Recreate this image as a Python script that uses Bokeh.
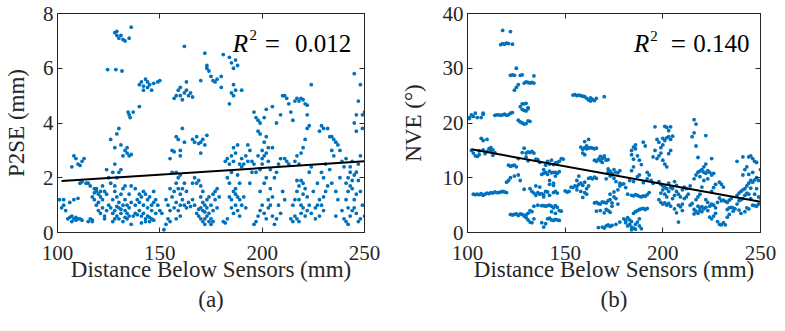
from bokeh.plotting import figure
from bokeh.layouts import row
from bokeh.models import LinearAxis, Title, Label, FixedTicker, Range1d
from bokeh.embed import file_html
from bokeh.resources import INLINE

FONT = "Liberation Serif"
BLUE = "#0072BD"
INK = "#262626"

# ---------------- Panel (a): P2SE (mm) vs distance ----------------
a_upper = [(128,7.3),(129,7.2),(130,7.1),(131,7.2),(132,7.05),(133,7.0),(135,7.1),(136,7.5),(129,7.35),
           (124.5,5.95),(128.5,5.95),(131.5,5.9),
           (140,5.4),(141,5.5),(142,5.35),(143,5.6),(144,5.3),(145,5.4),(146,5.2),(142,5.2),(144,5.5),(147,5.45),(150,5.55),(149,5.5),
           (134.5,4.4),(135,4.3),(135.5,4.2),(137,4.4),(140,4.6),
           (157,4.9),(158,5.0),(159,5.2),(160,5.0),(161,4.85),(162,5.1),(163,5.2),(164,5.0),(165,5.1),(166,4.95),(163,5.5),(160,5.3),(162,6.8),
           (170,5.55),(172,6.55),(173,6.0),(173,6.1),(174,5.9),(175,5.7),(176,5.55),(177,5.5),(178,5.6),(180,5.3),(180,5.7),(181,6.5),
           (184,6.4),(185,6.2),(186,6.0),(187,6.3),(188,6.1),(186,5.4),(185,5.1),(186,5.0),(187,5.2),(184,4.7),(190,5.2)]
a_middle = [(156,3.0),(157,2.95),(158,3.5),(159,3.4),(160,3.0),(160,2.8),(161,3.8),(162,3.3),(155,2.7),(158,2.2),(159,2.0),(160,2.1),
            (166,3.4),(167,3.3),(168,3.5),(169,3.25),(170,3.3),(171,3.4),(172,3.2),(170,2.9),(173,3.55),
            (126,3.4),(128,3.1),(129,3.6),(130,3.8),(131,3.2),(132,2.8),(133,3.0),(134,2.9),(135,2.8),(136,2.85),(134,3.1),(128,2.5),(127,2.2),
            (107,2.4),(108,2.8),(109,2.7),(110,2.5),(111,2.45),(112,2.6),(113,2.7)]
a_100_125 = [(101,1.2),(102,0.9),(103,1.0),(104,0.8),(105,0.5),(106,0.55),(107,0.4),(108,0.5),(109,0.55),(110,0.5),(111,0.5),(112,0.45),
             (103,1.2),(106,1.1),(108,1.2),(110,1.25),(107,0.6),(109,0.45),(111,1.8),(112,1.85),(114,1.8),
             (115,0.4),(116,0.5),(117,0.45),(118,1.6),(119,1.5),(120,1.4),(121,1.3),(122,1.7),(118,1.2),(119,1.0),(120,0.8),(121,0.7),
             (122,0.9),(123,1.5),(124,1.4),(117,1.3),(118,1.45),(119,1.6),(120,1.1),(116,1.7),(121,1.5),(122,1.2),(123,0.6),(124,0.8),
             (125,1.0),(125,2.0),(124,2.3),(123,0.5),(115,1.8),(117,0.4)]
a_126_150 = [(126,0.9),(127,0.7),(128,0.8),(129,0.6),(130,0.9),(131,0.7),(132,1.0),(133,0.8),(134,0.5),(135,0.6),(136,0.3),
             (127,1.2),(128,1.5),(129,1.3),(130,1.1),(131,1.4),(132,1.6),(133,1.2),(134,1.0),(128,0.5),(130,0.5),(132,0.4),(134,0.7),
             (126,1.8),(128,1.7),(129,2.0),(130,2.2),(131,2.3),(127,0.4),(133,0.55),(135,0.9),(136,1.1),(129,0.95),(131,0.85),(133,1.7),(135,1.4),
             (137,0.6),(138,0.7),(139,0.65),(140,0.8),(141,0.6),(142,0.7),(143,0.5),(144,0.6),(145,0.4),(146,0.5),(147,0.45),
             (138,1.0),(139,1.2),(140,1.4),(141,1.3),(142,1.5),(143,1.4),(144,1.2),(145,1.3),(146,1.0),(147,1.1),(148,1.2),(149,1.0),
             (140,1.1),(142,1.0),(144,0.9),(138,1.6),(136,1.7),(146,0.8),(148,0.7),(150,0.8),(151,0.7),(147,1.5),(143,0.4),(141,0.35),(145,0.55)]
a_150_180 = [(152,0.1),(153,0.3),(154,0.5),(155,0.4),(153,1.2),(154,1.0),(155,0.8),(156,1.3),(157,1.5),(158,1.8),(159,1.6),(160,1.4),
             (157,0.9),(158,1.1),(159,0.8),(160,1.0),(156,2.2),(155,1.6),(161,1.2),(162,1.0),(163,0.9),(164,1.1),(165,0.95),
             (161,1.6),(162,1.8),(163,1.5),(160,0.6),(158,0.5),
             (166,1.2),(167,1.0),(168,0.7),(169,0.6),(170,0.5),(171,0.4),(172,0.5),(173,0.6),(174,0.7),(175,0.5),(176,0.4),
             (168,1.8),(169,1.9),(170,1.7),(167,2.0),(166,1.8),(170,0.9),(171,1.1),(172,1.0),(173,1.2),(174,1.3),(175,1.0),(176,0.8),
             (177,1.2),(178,0.9),(177,1.5),(178,1.6),(179,1.3),(171,0.8),(172,0.75),(173,0.9),(174,0.4),(172,0.3),(175,0.3),
             (169,0.85),(170,1.3),(171,1.5),(176,1.4)]
a_180_210 = [(181,0.4),(182,0.35),(183,0.5),(184,1.3),(185,1.2),(186,1.5),(187,1.6),(188,1.3),(189,1.2),(190,1.0),(185,0.9),(186,0.7),
             (187,1.0),(188,0.8),(184,1.8),(183,2.0),(185,2.2),(182,2.6),(183,2.7),(184,2.5),(186,2.6),(187,2.9),(188,3.2),(189,2.5),
             (190,2.4),(191,2.5),(192,2.8),(193,2.6),(194,3.0),(195,2.6),(190,2.7),(188,2.1),(189,1.8),(186,3.1),(185,2.8),(187,1.4),
             (189,0.6),(191,1.3),(192,0.9),(194,1.8),(195,2.2),(193,3.2),
             (196,0.3),(197,0.4),(198,0.6),(199,0.8),(200,1.0),(201,0.7),(202,0.5),(203,0.9),(204,1.0),(205,0.6),(206,0.3),(207,0.5),
             (199,2.3),(200,2.5),(201,2.8),(202,2.9),(203,2.6),(204,2.3),(200,3.0),(201,3.3),(202,3.5),(199,3.6),(198,3.7),(197,2.2),
             (196,2.5),(198,2.8),(200,2.7),(203,3.1),(202,2.0),(201,1.8),(204,1.6),(205,1.3),(206,2.0),(207,2.2),(208,2.5),(209,2.7),
             (205,3.1),(197,4.2),(198,4.1),(199,4.0),(196,4.4),(201,4.2),(202,4.5),(205,4.6),(207,4.0),(209,4.3),(210,5.0),(211,5.0),
             (208,1.0),(209,0.7),(210,1.5),(211,1.2),(212,2.6),(213,2.5),(211,2.7),(203,1.2),(199,1.5)]
a_210_250 = [(214,0.5),(215,0.4),(216,0.6),(217,0.5),(218,0.4),(219,0.7),(220,0.9),(221,0.6),(222,0.8),(223,1.0),(224,0.7),
             (215,1.0),(216,1.2),(217,1.5),(218,1.7),(219,1.9),(220,1.8),(221,1.6),(222,1.3),(217,1.9),(218,1.2),(219,1.0),(220,1.4),
             (216,2.6),(217,2.8),(218,2.5),(219,2.9),(220,3.1),(221,3.4),(222,3.8),(223,3.9),(224,5.4),(219,4.9),(218,4.8),(220,4.85),
             (221,4.7),(222,4.65),(217,4.9),(216,4.8),(214,4.4),(215,4.1),(212,4.9),(213,4.7),(222,4.3),(225,1.5),(224,2.4),(223,2.2),
             (226,0.9),(227,1.0),(228,1.2),(229,1.0),(230,1.3),(231,1.5),(232,1.7),(226,0.5),(228,0.6),(230,0.8),(227,1.8),(229,2.2),
             (230,2.0),(231,2.5),(233,2.3),(234,1.8),(236,1.5),(237,1.2),(235,2.8),(234,3.0),(233,3.5),(232,3.8),(234,3.5),(235,3.4),
             (236,3.3),(237,3.2),(238,3.0),(230,3.8),(229,3.9),(228,3.7),(239,2.6),(240,2.4),(238,2.0),(236,0.6),(239,0.8),
             (240,0.5),(241,0.4),(242,0.3),(243,0.6),(244,0.8),(245,0.9),(246,0.7),(247,0.4),(248,0.5),(241,1.2),(242,1.5),(243,1.7),
             (244,1.9),(245,2.1),(246,2.2),(247,1.9),(241,1.8),(242,2.0),(243,2.2),(244,1.6),(245,1.2),(246,1.4),(247,2.5),(248,2.8),
             (243,2.4),(244,2.6),(245,4.0),(246,4.3),(247,4.8),(248,5.4),(245,5.8),(249,4.3),(250,4.4),(249,3.8),(246,3.7),(242,0.9),
             (241,2.7),(248,1.5),(249,1.0),(250,0.6)]
a_fit_x = [102, 250]
a_fit_y = [1.88, 2.60]

# ---------------- Panel (b): NVE (deg) vs distance ----------------
b_100_125 = [(117,34.3),(118,34.5),(119,34.4),(120,34.6),(121,34.5),(123,34.4),(118,36.9),(122,36.7),
             (101,21.0),(102,21.5),(103,21.2),(104,21.8),(105,21.0),(107,21.0),(108,21.6),(108,21.8),(101,20.8),
             (114,21.4),(115,21.5),(116,21.5),(117,21.4),(118,21.5),(119,21.6),(120,21.4),(121,21.5),(122,21.8),(123,21.9),
             (102,15.0),(103,14.5),(104,14.0),(105,13.9),(106,14.2),(107,17.2),(108,16.8),(110,17.0),(111,15.3),(112,14.9),
             (113,15.1),(114,14.6),(110,14.8),(112,15.5),(113,14.1),(106,14.9),(108,15.1),(109,14.4),
             (103,7.0),(104,6.9),(105,7.0),(106,6.9),(107,7.1),(108,6.8),(109,7.0),(110,7.2),(111,7.1),(112,7.3),(113,7.2),
             (114,7.4),(115,7.3),(116,7.3),(117,7.4),(118,7.5),(119,7.4),(120,7.3),
             (121,12.3),(122,12.1),(123,12.2),(124,12.3),(125,12.0),(120,9.2),(121,9.5),(122,10.0),(124,10.3),(126,10.5),(127,9.5)]
b_122_150 = [(122,28.7),(123,28.8),(124,28.7),(125,30.0),(124,26.0),(125,26.5),(126,27.0),(127,28.7),(128,28.8),(129,27.3),
             (130,27.5),(131,27.4),(132,27.3),(133,27.4),(134,28.6),(134,27.3),
             (127,23.0),(128,23.5),(129,23.5),(130,23.6),(131,22.8),(128,22.5),(129,22.3),(130,22.2),(131,22.6),(127,20.2),
             (128,20.0),(129,19.8),(130,19.9),(126,20.5),(131,20.4),(132,20.3),
             (126,13.5),(128,14.6),(129,15.4),(130,14.5),(131,14.7),(132,14.6),(133,14.8),(134,14.5),(130,13.8),(131,13.1),
             (122,3.3),(123,3.2),(124,3.3),(125,3.4),(126,3.1),(127,3.4),(128,3.3),(129,3.0),(130,3.2),(131,3.5),(132,4.0),
             (133,3.8),(130,2.7),(131,2.3),(132,1.9),(133,1.8),(134,2.5),(129,7.9),(132,8.0),(134,4.8),(136,5.0),
             (133,7.5),(134,7.2),(135,6.8),(136,7.3),(137,7.0),(138,7.1),(139,6.9),(135,8.5),(137,8.3),(140,7.5),(141,7.4),
             (142,6.8),(144,7.3),(145,7.5),(146,7.2),(139,6.5),(142,8.8),(144,8.6),
             (138,10.6),(139,10.8),(140,11.0),(141,10.6),(142,11.2),(143,10.9),(144,11.0),(145,11.0),(146,10.8),(147,11.1),
             (140,12.3),(142,12.5),(144,12.4),(145,12.7),(146,12.8),(147,13.0),(148,13.5),(149,13.4),(141,13.0),(143,13.2),
             (135,13.4),(136,13.3),(137,12.8),(139,11.5),(142,9.5),(144,9.0),(145,10.3),
             (138,4.9),(139,4.9),(140,4.8),(141,4.9),(142,5.0),(143,4.8),(144,4.5),(145,4.9),(146,4.6),
             (138,1.8),(139,1.0),(140,1.6),(141,2.5),(142,2.6),(143,2.3),(144,2.2),(145,2.4),(146,2.3),(147,2.2),(145,3.5),
             (143,3.8),(147,4.0),(148,3.9)]
b_150_180 = [(154,25.1),(155,25.2),(156,25.0),(157,25.1),(158,25.0),(159,24.9),(160,24.8),(161,24.5),(162,24.2),(163,24.0),
             (164,24.3),(165,24.1),(166,24.5),(163,24.6),(170,24.8),
             (150,7.6),(151,7.4),(152,7.5),(153,8.3),(154,8.2),(155,8.5),(156,8.4),(157,8.8),(158,9.0),(159,8.6),(160,9.2),
             (161,8.0),(162,8.5),(160,7.3),(158,7.5),(156,7.8),(159,6.4),(161,7.0),(162,9.9),(163,10.0),(164,9.8),(165,10.1),
             (166,9.9),(157,10.3),(156,9.5),
             (158,15.6),(159,15.2),(160,15.5),(161,15.8),(162,17.0),(160,16.6),(161,15.3),(162,15.4),(163,15.5),(164,15.4),
             (165,15.3),(166,15.4),(159,14.5),(160,14.2),
             (165,13.2),(166,13.0),(167,13.4),(168,13.1),(169,13.5),(170,13.7),(171,13.2),(172,13.3),(169,12.8),(170,14.0),(168,13.9),
             (172,11.0),(173,11.2),(174,10.8),(175,11.5),(176,11.0),(177,10.9),(178,11.3),(173,10.3),(174,10.5),(175,9.9),
             (176,9.3),(178,9.0),(179,8.8),(180,8.9),(181,8.2),(178,8.5),(172,11.6),(171,9.8),
             (165,5.4),(166,5.5),(167,5.3),(168,5.2),(169,5.6),(170,5.5),(171,5.4),(172,5.8),(173,6.0),(174,5.4),(175,6.5),
             (176,6.2),(177,5.2),(172,4.0),(168,4.0),(166,3.9),(170,3.6),(171,4.2),(173,3.7),(174,4.8),(173,7.0),(175,7.4),(177,7.8),
             (169,1.0),(170,0.8),(171,1.2),(172,1.4),(173,1.1),(174,1.3),(176,1.5),(178,1.9),(167,0.9)]
b_180_212 = [(180,2.5),(181,2.2),(182,2.7),(183,1.5),(184,1.0),(185,0.8),(186,0.6),(187,1.9),(188,2.5),(183,2.3),(184,2.0),
             (182,1.2),(181,1.8),(185,3.5),(186,3.8),(187,4.0),(188,4.2),(189,4.3),(190,4.4),(191,4.2),(192,4.4),(189,0.7),
             (186,1.5),(188,1.2),(184,0.5),
             (184,6.8),(185,6.7),(186,6.9),(187,6.8),(188,6.6),(189,6.5),(190,6.7),(191,6.6),(192,6.9),(193,7.3),(182,7.0),
             (184,15.0),(185,15.6),(186,15.3),(184,14.2),(185,13.4),(186,16.0),(187,14.0),(188,13.2),(190,16.5),(191,15.8),
             (189,12.4),(192,11.0),(185,12.0),(184,11.3),(187,10.2),(188,10.5),(183,9.5),(185,9.3),(190,9.1),(192,9.8),
             (194,9.5),(195,9.0),(193,10.5),
             (196,19.3),(197,17.0),(198,16.5),(199,15.5),(200,17.2),(201,16.8),(202,17.3),(203,18.6),(201,19.4),(202,19.2),
             (204,19.3),(203,17.5),(204,17.0),(199,14.5),(198,14.0),(197,13.5),(200,13.2),(201,12.5),(202,12.0),(196,15.0),
             (195,13.8),(203,14.4),(204,15.0),(205,17.6),(200,16.0),
             (198,9.3),(199,8.8),(200,8.5),(201,8.3),(202,8.0),(203,7.5),(200,7.8),(199,7.2),(201,7.0),(202,6.5),(198,6.0),
             (199,5.5),(200,5.2),(201,5.4),(202,5.0),(203,5.3),(204,4.8),(205,6.2),(206,6.8),(207,7.5),(208,7.0),(209,6.5),
             (204,8.2),(205,8.0),(203,9.0),(206,9.3),(207,8.6),(208,5.0),(209,4.7),(210,5.2),(206,4.3),(207,3.6),(208,1.9),
             (210,4.0),(211,6.2),(212,6.5),(213,7.0),(214,8.5),(210,7.8),(211,8.3),(212,8.0)]
b_213_250 = [(214,5.0),(215,5.3),(216,4.2),(217,3.9),(218,3.5),(219,4.5),(220,4.7),(221,4.3),(222,4.6),(223,4.0),(216,3.4),
             (218,4.8),(219,4.0),(220,3.8),(217,6.0),(218,6.5),(219,7.0),(220,8.3),(221,9.5),(216,9.8),(217,10.5),(218,11.0),
             (219,11.2),(220,11.5),(221,11.0),(222,10.8),(223,11.3),(224,11.0),(225,10.5),(226,10.8),(219,10.2),(221,12.0),
             (222,12.5),(225,13.5),(223,9.8),(215,17.5),(216,18.2),(217,15.8),(218,13.7),(216,20.6),(217,19.8),(222,17.7),
             (226,8.2),(227,8.8),(225,7.5),
             (224,2.8),(225,2.5),(226,3.0),(227,3.5),(228,2.0),(229,1.5),(230,1.4),(231,1.8),(224,4.8),(225,5.2),(226,5.0),
             (227,4.5),(228,5.5),(229,6.3),(230,5.8),(231,5.9),(232,5.7),(233,5.5),(234,5.9),(235,6.2),(222,6.0),(223,5.5),
             (232,1.4),(230,8.8),(231,8.3),(229,9.2),(233,2.8),(234,3.3),(236,3.9),(237,4.3),(238,5.2),(235,4.6),(236,4.5),
             (234,4.5),(233,4.2),
             (238,6.8),(239,7.2),(240,7.5),(241,7.8),(242,8.0),(243,8.5),(244,9.0),(245,9.5),(246,9.2),(247,9.6),(241,10.5),
             (242,11.5),(243,12.0),(244,13.8),(245,14.0),(246,13.5),(247,13.0),(248,12.8),(238,13.0),(241,13.8),(244,10.6),
             (246,11.0),(247,7.0),(248,8.0),(249,6.5),(245,6.2),(246,5.0),(247,4.9),(248,4.8),(249,5.2),(250,6.3),(243,4.5),
             (242,3.8),(244,4.3),(240,3.5),(239,4.1),(242,6.8),(243,7.2),(244,7.0),(245,8.1),(239,5.8),(240,6.0),(241,6.2),
             (248,10.0),(249,9.5),(250,11.5)]
b_fit_x = [102, 250]
b_fit_y = [15.2, 5.6]

x_ticks = [100, 150, 200, 250]
a_y_ticks = [0, 2, 4, 6, 8]
b_y_ticks = [0, 10, 20, 30, 40]
x_label = "Distance Below Sensors (mm)"
a_label = "P2SE (mm)"
b_label = "NVE (°)"
a_r2 = "0.012"
b_r2 = "0.140"


def style_axis(ax, ticks, labelled=True):
    ax.ticker = FixedTicker(ticks=ticks, minor_ticks=[])
    ax.major_tick_in = 5
    ax.major_tick_out = 0
    ax.minor_tick_line_color = None
    ax.axis_line_color = INK
    ax.major_tick_line_color = INK
    if labelled:
        ax.major_label_text_font = FONT
        ax.major_label_text_font_size = "21px"
        ax.major_label_text_color = INK
        ax.axis_label_text_font = FONT
        ax.axis_label_text_font_size = "23px"
        ax.axis_label_text_font_style = "normal"
        ax.axis_label_text_color = INK
    else:
        ax.major_label_text_color = None
        ax.major_label_text_font_size = "1px"
        ax.major_label_standoff = 0


def panel(groups, fit_x, fit_y, y_ticks, ylabel, caption, r2, r2_xs, r2_base, sup_base,
          width, bl, br, ylab_standoff):
    ymax = y_ticks[-1]
    p = figure(width=width, height=322, x_range=Range1d(100, 250), y_range=Range1d(0, ymax),
               output_backend="svg", toolbar_location=None, title=None,
               min_border_left=bl, min_border_right=br, min_border_top=13, min_border_bottom=90,
               x_axis_label=x_label, y_axis_label=ylabel)
    p.grid.visible = False
    p.outline_line_color = INK
    p.outline_line_width = 1
    xs = [pt[0] for g in groups for pt in g]
    ys = [pt[1] for g in groups for pt in g]
    p.scatter(xs, ys, size=3.8, fill_color=BLUE, line_color=None)
    p.line(fit_x, fit_y, line_color="black", line_width=2)
    style_axis(p.xaxis[0], x_ticks)
    style_axis(p.yaxis[0], y_ticks)
    p.xaxis[0].major_label_standoff = 13
    p.xaxis[0].axis_label_standoff = -6
    p.yaxis[0].major_label_standoff = 4
    p.yaxis[0].axis_label_standoff = ylab_standoff
    top = LinearAxis()
    style_axis(top, x_ticks, labelled=False)
    p.add_layout(top, "above")
    right = LinearAxis()
    style_axis(right, y_ticks, labelled=False)
    p.add_layout(right, "right")
    p.add_layout(Title(text=caption, align="center", text_font=FONT, text_font_size="23px",
                       text_font_style="normal", text_color=INK, standoff=1), "below")
    rx, sx, ex, vx = r2_xs
    p.add_layout(Label(x=rx, y=r2_base, text="R", text_font=FONT, text_font_style="italic",
                       text_font_size="25px", text_baseline="alphabetic", text_color="black"))
    p.add_layout(Label(x=sx, y=sup_base, text="2", text_font=FONT, text_font_size="15px",
                       text_baseline="alphabetic", text_color="black"))
    p.add_layout(Label(x=ex, y=r2_base, text="=", text_font=FONT, text_font_size="27px",
                       text_align="center", text_baseline="alphabetic", text_color="black"))
    p.add_layout(Label(x=vx, y=r2_base, text=r2, text_font=FONT, text_font_size="25px",
                       text_align="right", text_baseline="alphabetic", text_color="black"))
    return p


pa = panel([a_upper, a_middle, a_100_125, a_126_150, a_150_180, a_180_210, a_210_250],
           a_fit_x, a_fit_y, a_y_ticks, a_label, "(a)", a_r2,
           (185.6, 193.8, 205.0, 243.5), 6.90, 7.22, 397, 57, 33, 11)
pb = panel([b_100_125, b_122_150, b_150_180, b_180_212, b_213_250],
           b_fit_x, b_fit_y, b_y_ticks, b_label, "(b)", b_r2,
           (185.2, 193.6, 207.9, 244.4), 34.47, 35.9, 382, 66, 19, 14)

layout = row(pa, pb)
open("out.html", "w").write(file_html(layout, INLINE))
